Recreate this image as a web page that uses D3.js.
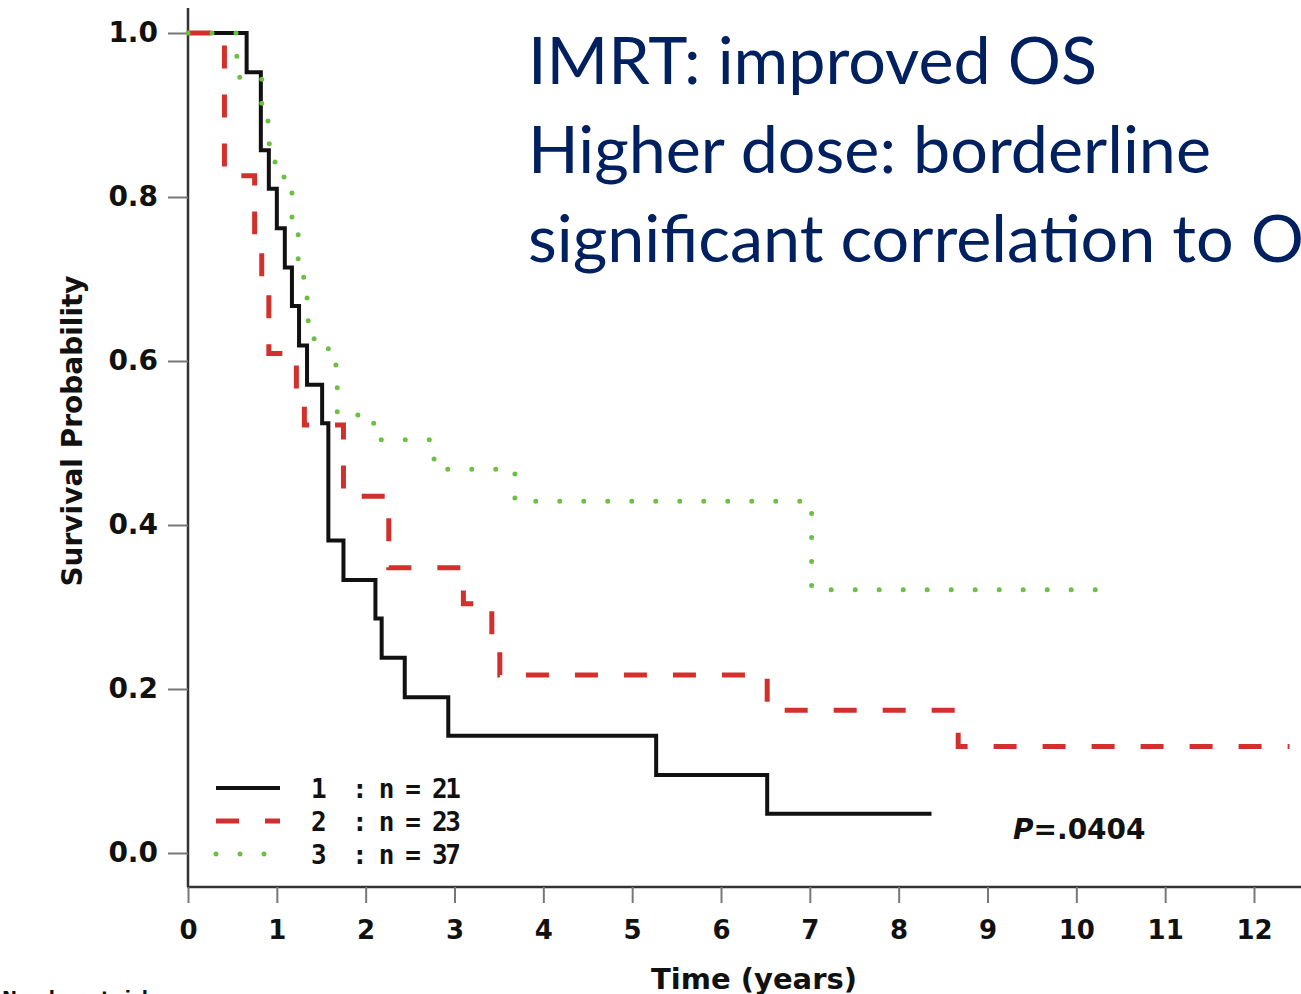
<!DOCTYPE html>
<html>
<head>
<meta charset="utf-8">
<script src="https://cdn.jsdelivr.net/npm/d3@7"></script>
<style>
  html, body { margin: 0; padding: 0; background: #fff; overflow: hidden; }
  svg { display: block; }
</style>
</head>
<body>
<svg width="1301" height="994"></svg>
<script>
// survival curves (time in years, survival probability)
var timeBlack = [0, 0.66, 0.82, 0.91, 1.00, 1.09, 1.17, 1.25, 1.34, 1.51, 1.58, 1.75, 2.11, 2.18, 2.44, 2.93, 5.27, 6.52, 8.37];
var survBlack = [1.0, 0.952, 0.857, 0.810, 0.762, 0.714, 0.667, 0.619, 0.571, 0.524, 0.381, 0.333, 0.286, 0.238, 0.190, 0.143, 0.095, 0.048, 0.048];

var timeRed = [0, 0.41, 0.75, 0.83, 0.91, 1.22, 1.31, 1.75, 2.26, 3.10, 3.42, 3.51, 6.52, 8.67, 12.4];
var survRed = [1.0, 0.826, 0.739, 0.696, 0.609, 0.565, 0.522, 0.435, 0.348, 0.304, 0.261, 0.217, 0.174, 0.130, 0.130];

var timeGreen = [0, 0.55, 0.83, 0.90, 0.98, 1.08, 1.17, 1.24, 1.34, 1.42, 1.58, 1.68, 2.09, 2.77, 3.68, 7.02, 10.33];
var survGreen = [1.0, 0.946, 0.893, 0.865, 0.838, 0.811, 0.757, 0.702, 0.649, 0.622, 0.595, 0.534, 0.504, 0.468, 0.429, 0.321, 0.321];

var groupLabels = ['1', '2', '3'];
var groupCounts = [': n = 21', ': n = 23', ': n = 37'];
var xTicks = [0, 1, 2, 3, 4, 5, 6, 7, 8, 9, 10, 11, 12];
var yTicks = [0, 0.2, 0.4, 0.6, 0.8, 1.0];
var titleLines = ['IMRT: improved OS', 'Higher dose: borderline', 'significant correlation to OS'];
var pText = '=.0404';

var svg = d3.select('svg');
var x = d3.scaleLinear().domain([0, 12]).range([188, 1254]);
var y = d3.scaleLinear().domain([0, 1]).range([853, 33]);
var axisY = 887;
var labFont = 'DejaVu Sans, sans-serif';

// axis lines
svg.append('line').attr('x1', 188).attr('y1', 8).attr('x2', 188).attr('y2', axisY)
  .attr('stroke', '#333').attr('stroke-width', 2.5);
svg.append('line').attr('x1', 187).attr('y1', axisY).attr('x2', 1301).attr('y2', axisY)
  .attr('stroke', '#333').attr('stroke-width', 2.5);

// y axis
var gy = svg.append('g').attr('transform', 'translate(188,0)')
  .call(d3.axisLeft(y).tickValues(yTicks).tickFormat(d3.format('.1f')).tickSize(20).tickPadding(10));
gy.select('.domain').remove();
gy.selectAll('.tick line').attr('stroke', '#777').attr('stroke-width', 2);
gy.selectAll('.tick text').attr('font-family', labFont).attr('font-weight', 'bold')
  .attr('font-size', 28).attr('fill', '#111');

// x axis
var gx = svg.append('g').attr('transform', 'translate(0,' + axisY + ')')
  .call(d3.axisBottom(x).tickValues(xTicks).tickFormat(d3.format('d')).tickSize(16).tickPadding(18));
gx.select('.domain').remove();
gx.selectAll('.tick line').attr('stroke', '#777').attr('stroke-width', 2);
gx.selectAll('.tick text').attr('font-family', labFont).attr('font-weight', 'bold')
  .attr('font-size', 26).attr('fill', '#111');

// axis titles
svg.append('text').attr('x', 754).attr('y', 989).attr('text-anchor', 'middle')
  .attr('font-family', labFont).attr('font-weight', 'bold').attr('font-size', 29).attr('fill', '#111')
  .text('Time (years)');
svg.append('text').attr('transform', 'translate(82,431) rotate(-90)').attr('text-anchor', 'middle')
  .attr('font-family', labFont).attr('font-weight', 'bold').attr('font-size', 28).attr('fill', '#111')
  .text('Survival Probability');
svg.append('text').attr('x', 2).attr('y', 1004)
  .attr('font-family', labFont).attr('font-weight', 'bold').attr('font-size', 18).attr('fill', '#111')
  .text('Number at risk');

// curves
var line = d3.line().x(function (d) { return x(d[0]); }).y(function (d) { return y(d[1]); }).curve(d3.curveStepAfter);
var series = [
  { t: timeBlack, s: survBlack, color: '#111', width: 4, dash: null, cap: 'butt' },
  { t: timeRed, s: survRed, color: '#d2302c', width: 5, dash: '23,26', cap: 'butt' },
  { t: timeGreen, s: survGreen, color: '#6cbf45', width: 5, dash: '0,24', cap: 'round' }
];
series.forEach(function (sr) {
  var pts = sr.t.map(function (t, i) { return [t, sr.s[i]]; });
  svg.append('path').attr('d', line(pts)).attr('fill', 'none')
    .attr('stroke', sr.color).attr('stroke-width', sr.width)
    .attr('stroke-dasharray', sr.dash).attr('stroke-linecap', sr.cap);
});

// legend
var legY = [788, 821, 854];
series.forEach(function (sr, i) {
  svg.append('line').attr('x1', 216).attr('y1', legY[i]).attr('x2', 280).attr('y2', legY[i])
    .attr('stroke', sr.color).attr('stroke-width', sr.width)
    .attr('stroke-dasharray', sr.dash).attr('stroke-linecap', sr.cap);
  svg.append('text').attr('x', 311).attr('y', legY[i] + 10)
    .attr('font-family', 'DejaVu Sans Mono, monospace').attr('font-weight', 'bold')
    .attr('font-size', 26).attr('fill', '#111').text(groupLabels[i]);
  svg.append('text').attr('x', 352).attr('y', legY[i] + 10)
    .attr('font-family', 'DejaVu Sans Mono, monospace').attr('font-weight', 'bold')
    .attr('font-size', 26).attr('fill', '#111')
    .attr('textLength', 109).attr('lengthAdjust', 'spacing').text(groupCounts[i]);
});

// p value
var pv = svg.append('text').attr('x', 1013).attr('y', 839)
  .attr('font-family', labFont).attr('font-weight', 'bold').attr('font-size', 28).attr('fill', '#111');
pv.append('tspan').attr('font-style', 'italic').text('P');
pv.append('tspan').text(pText);

// title text, sized so first line spans the same width as the original
var title = svg.append('g');
var t0 = title.append('text').attr('font-family', 'Lato, sans-serif').attr('font-size', 100).text(titleLines[0]);
var fs = 100 * 569 / t0.node().getComputedTextLength();
t0.remove();
titleLines.forEach(function (s, i) {
  title.append('text').attr('x', 528).attr('y', 84 + i * 89)
    .attr('font-family', 'Lato, sans-serif').attr('font-size', fs).attr('fill', '#002060')
    .text(s);
});
</script>
</body>
</html>
